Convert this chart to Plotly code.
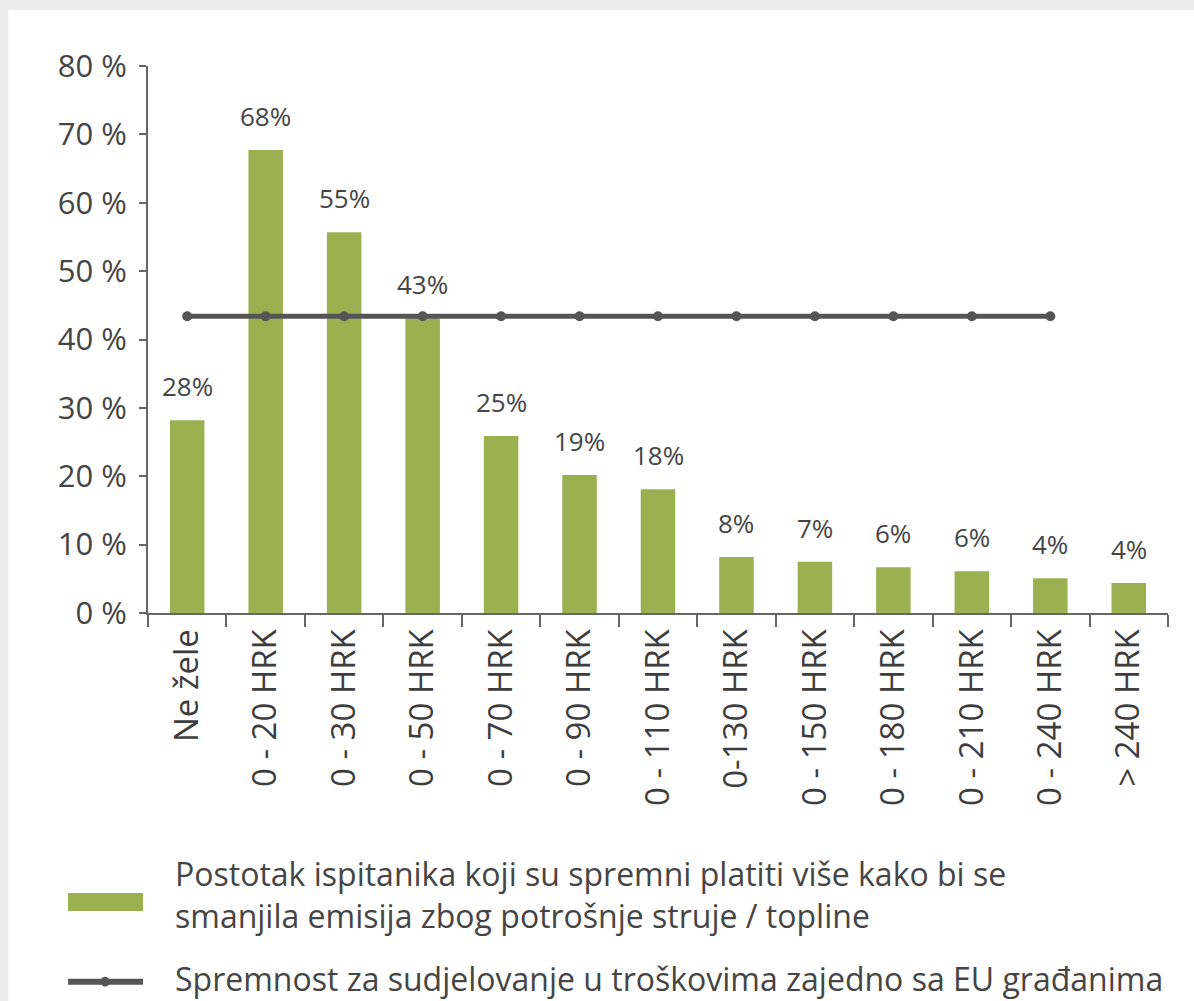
import plotly.graph_objects as go

categories = ["Ne žele", "0 - 20 HRK", "0 - 30 HRK", "0 - 50 HRK", "0 - 70 HRK",
              "0 - 90 HRK", "0 - 110 HRK", "0-130 HRK", "0 - 150 HRK", "0 - 180 HRK",
              "0 - 210 HRK", "0 - 240 HRK", "> 240 HRK"]
bar_values = [28.2, 67.7, 55.7, 43.1, 25.9, 20.2, 18.1, 8.2, 7.5, 6.7, 6.1, 5.1, 4.4]
bar_labels = ["28%", "68%", "55%", "43%", "25%", "19%", "18%", "8%", "7%", "6%", "6%", "4%", "4%"]
line_categories = categories[:12]
line_values = [43.4] * 12

bar_name = "Postotak ispitanika koji su spremni platiti više kako bi se<br>smanjila emisija zbog potrošnje struje / topline"
line_name = "Spremnost za sudjelovanje u troškovima zajedno sa EU građanima"

GREEN = "#9bb050"
DARK = "#555555"
TEXT = "#454545"
FONT = "Open Sans"

fig = go.Figure()
fig.add_trace(go.Bar(x=categories, y=bar_values, marker=dict(color=GREEN, line=dict(width=0)),
                     width=0.44, name=bar_name, showlegend=False))
fig.add_trace(go.Scatter(x=line_categories, y=line_values, mode="lines+markers",
                         line=dict(color=DARK, width=5), marker=dict(color=DARK, size=10),
                         name=line_name, showlegend=False))

for c, v, t in zip(categories, bar_values, bar_labels):
    fig.add_annotation(x=c, y=v, text=t, showarrow=False, yanchor="bottom", yshift=14,
                       font=dict(family=FONT, size=26, color=TEXT))

# white card over gray page
fig.add_shape(type="rect", xref="paper", yref="paper", x0=-0.137, x1=1.1, y0=-0.8, y1=1.1024,
              fillcolor="white", line=dict(width=0), layer="below")

# custom legend
fig.add_shape(type="rect", xref="paper", yref="paper", x0=-0.0784, x1=-0.0049, y0=-0.545, y1=-0.512,
              fillcolor=GREEN, line=dict(width=0))
fig.add_shape(type="line", xref="paper", yref="paper", x0=-0.0784, x1=-0.0049, y0=-0.674, y1=-0.674,
              line=dict(color=DARK, width=6))
fig.add_shape(type="circle", xref="paper", yref="paper", x0=-0.0465, x1=-0.0375, y0=-0.683, y1=-0.665,
              fillcolor=DARK, line=dict(width=0))
fig.add_annotation(xref="paper", yref="paper", x=0.0245, y=-0.5146, text=bar_name, showarrow=False,
                   xanchor="left", yanchor="middle", align="left",
                   font=dict(family=FONT, size=32, color=TEXT))
fig.add_annotation(xref="paper", yref="paper", x=0.0245, y=-0.669, text=line_name, showarrow=False,
                   xanchor="left", yanchor="middle", align="left",
                   font=dict(family=FONT, size=32, color=TEXT))

fig.update_layout(
    width=1194, height=1001,
    margin=dict(l=148, r=26, t=66, b=388),
    paper_bgcolor="#ececec", plot_bgcolor="white",
    bargap=0.56,
    font=dict(family=FONT, color=TEXT),
    xaxis=dict(range=[-0.5, 12.5], tickangle=-90, tickson="boundaries", ticks="outside",
               ticklen=12, tickwidth=2, tickcolor="#666666", showline=True, linecolor="#666666",
               linewidth=2, showgrid=False, tickfont=dict(family=FONT, size=33, color="#3d3d3d"),
               ticklabelstandoff=1),
    yaxis=dict(range=[0, 80], dtick=10, ticksuffix=" %", ticks="outside", ticklen=7, tickwidth=2,
               tickcolor="#666666", showline=True, linecolor="#666666", linewidth=2,
               showgrid=False, zeroline=False, tickfont=dict(family=FONT, size=31, color=TEXT),
               ticklabelstandoff=6),
)

fig.write_html("out.html", config={"displayModeBar": False},
               post_script="document.body.style.margin='0px';document.body.style.backgroundColor='#ececec';")
